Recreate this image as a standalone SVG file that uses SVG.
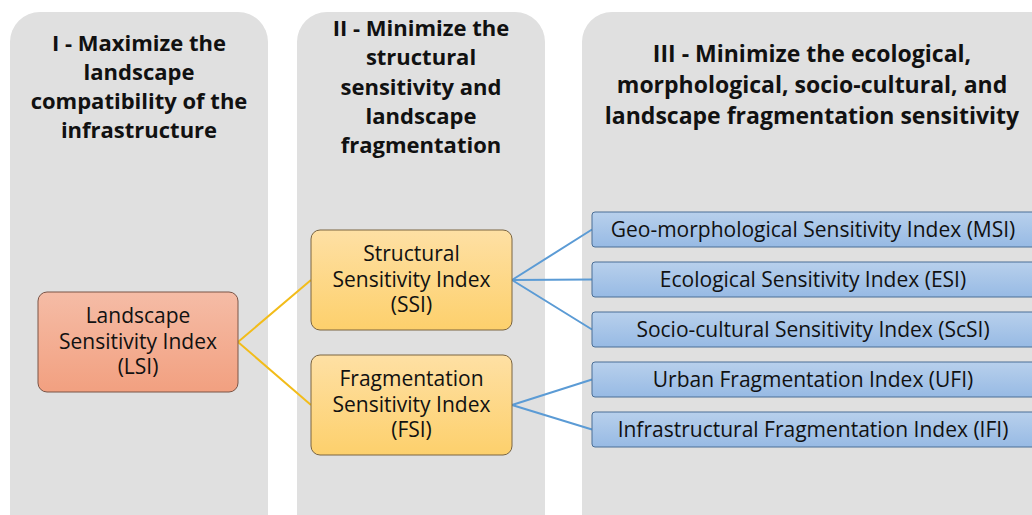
<svg xmlns="http://www.w3.org/2000/svg" width="1032" height="515" viewBox="0 0 1032 515">
<defs>
<linearGradient id="gRed" x1="0" y1="0" x2="0" y2="1"><stop offset="0" stop-color="#F5BCA6"/><stop offset="1" stop-color="#F2A080"/></linearGradient>
<linearGradient id="gYel" x1="0" y1="0" x2="0" y2="1"><stop offset="0" stop-color="#FEE0A4"/><stop offset="1" stop-color="#FDD06C"/></linearGradient>
<linearGradient id="gBlue" x1="0" y1="0" x2="0" y2="1"><stop offset="0" stop-color="#B8D0EC"/><stop offset="1" stop-color="#97BAE4"/></linearGradient>
<style>
.panel{fill:#E0E0E0}
.title{font-family:"Open Sans","Liberation Sans",sans-serif;font-weight:bold;font-size:22px;fill:#111;text-anchor:middle}
.t3{font-size:23px}
.lbl{font-family:"Open Sans","Liberation Sans",sans-serif;font-size:21px;fill:#111;text-anchor:middle}
.red{fill:url(#gRed);stroke:#7A5446;stroke-width:1}
.yel{fill:url(#gYel);stroke:#7A6440;stroke-width:1}
.blue{fill:url(#gBlue);stroke:#4A6E96;stroke-width:1}
.cy{stroke:#F2BC1A;stroke-width:2;fill:none}
.cb{stroke:#5B9BD5;stroke-width:2;fill:none}
</style>
</defs>
<rect width="1032" height="515" fill="#FFFFFF"/>
<g id="panel1">
<rect class="panel" x="10" y="12" width="258" height="540" rx="30"/>
<text class="title"><tspan x="139" y="51">I - Maximize the</tspan><tspan x="139" y="80">landscape</tspan><tspan x="139" y="109">compatibility of the</tspan><tspan x="139" y="138">infrastructure</tspan></text>
</g>
<g id="panel2">
<rect class="panel" x="297" y="12" width="248" height="540" rx="30"/>
<text class="title"><tspan x="421" y="36">II - Minimize the</tspan><tspan x="421" y="65">structural</tspan><tspan x="421" y="95">sensitivity and</tspan><tspan x="421" y="124">landscape</tspan><tspan x="421" y="153">fragmentation</tspan></text>
</g>
<g id="panel3">
<rect class="panel" x="582" y="12" width="500" height="540" rx="30"/>
<text class="title t3"><tspan x="812" y="62">III - Minimize the ecological,</tspan><tspan x="812" y="93">morphological, socio-cultural, and</tspan><tspan x="812" y="124">landscape fragmentation sensitivity</tspan></text>
</g>
<g id="connectors">
<path class="cy" d="M238 342 L311 280 M238 342 L311 405"/>
<path class="cb" d="M512 280 L592 229.5 M512 280 L592 279.5 M512 280 L592 329.5 M512 405 L592 379.5 M512 405 L592 429.5"/>
</g>
<g id="LSI">
<rect class="red" x="38" y="292" width="200" height="100" rx="9"/>
<text class="lbl"><tspan x="138" y="323">Landscape</tspan><tspan x="138" y="348.5">Sensitivity Index</tspan><tspan x="138" y="374">(LSI)</tspan></text>
</g>
<g id="SSI">
<rect class="yel" x="311" y="230" width="201" height="100" rx="9"/>
<text class="lbl"><tspan x="411.5" y="261">Structural</tspan><tspan x="411.5" y="286.5">Sensitivity Index</tspan><tspan x="411.5" y="312">(SSI)</tspan></text>
</g>
<g id="FSI">
<rect class="yel" x="311" y="355" width="201" height="100" rx="9"/>
<text class="lbl"><tspan x="411.5" y="386">Fragmentation</tspan><tspan x="411.5" y="411.5">Sensitivity Index</tspan><tspan x="411.5" y="437">(FSI)</tspan></text>
</g>
<g id="MSI">
<rect class="blue" x="592" y="212" width="446" height="35" rx="3"/>
<text class="lbl" x="813" y="237">Geo-morphological Sensitivity Index (MSI)</text>
</g>
<g id="ESI">
<rect class="blue" x="592" y="262" width="446" height="35" rx="3"/>
<text class="lbl" x="813" y="287">Ecological Sensitivity Index (ESI)</text>
</g>
<g id="ScSI">
<rect class="blue" x="592" y="312" width="446" height="35" rx="3"/>
<text class="lbl" x="813" y="337">Socio-cultural Sensitivity Index (ScSI)</text>
</g>
<g id="UFI">
<rect class="blue" x="592" y="362" width="446" height="35" rx="3"/>
<text class="lbl" x="813" y="387">Urban Fragmentation Index (UFI)</text>
</g>
<g id="IFI">
<rect class="blue" x="592" y="412" width="446" height="35" rx="3"/>
<text class="lbl" x="813" y="437">Infrastructural Fragmentation Index (IFI)</text>
</g>
</svg>
